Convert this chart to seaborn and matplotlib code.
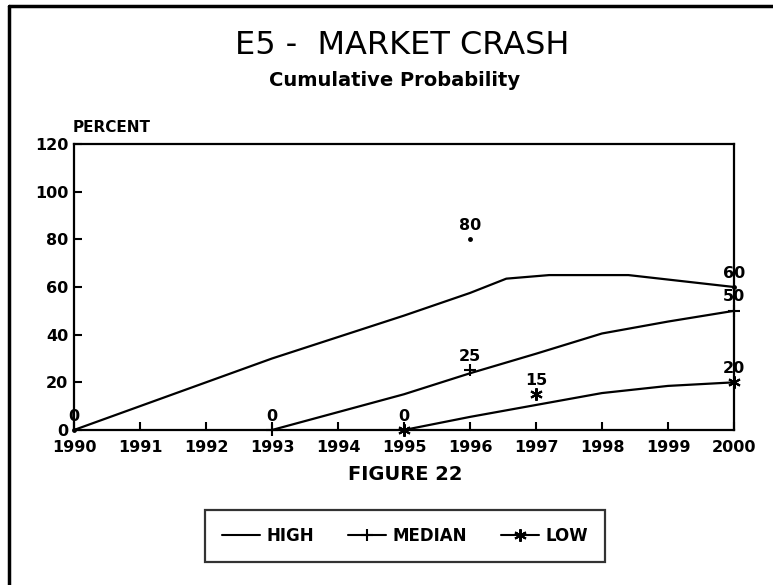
import pandas as pd
import matplotlib.pyplot as plt
import seaborn as sns
from matplotlib.lines import Line2D

# data points (value labels)
high_years = [1990, 1996, 2000]
high_vals = [0, 80, 60]
median_years = [1993, 1996, 2000]
median_vals = [0, 25, 50]
low_years = [1995, 1997, 2000]
low_vals = [0, 15, 20]

# fitted curves
high_curve_x = [1990, 1991, 1992, 1993, 1994, 1995, 1996, 1996.55, 1997.2, 1998.4, 1999.2, 2000]
high_curve_y = [0, 10, 20, 30, 39, 48, 57.5, 63.5, 65, 65, 62.5, 60]
median_curve_x = [1993, 1994, 1995, 1996, 1997, 1998, 1999, 2000]
median_curve_y = [0, 7.5, 15, 23.8, 32, 40.5, 45.5, 50]
low_curve_x = [1995, 1996, 1997, 1998, 1999, 2000]
low_curve_y = [0, 5.5, 10.5, 15.5, 18.5, 20]

year_ticks = list(range(1990, 2001))
pct_ticks = [0, 20, 40, 60, 80, 100, 120]

series = ['HIGH', 'MEDIAN', 'LOW']
asterisk = (6, 2, 0)
markers = {'HIGH': '.', 'MEDIAN': '+', 'LOW': asterisk}

sns.set_theme(style='white')
plt.rcParams['font.family'] = ['DejaVu Sans']
plt.rcParams['font.weight'] = 'bold'
plt.rcParams['text.color'] = 'black'
plt.rcParams['xtick.color'] = 'black'
plt.rcParams['ytick.color'] = 'black'

curves = pd.concat([
    pd.DataFrame({'year': high_curve_x, 'pct': high_curve_y, 'series': 'HIGH'}),
    pd.DataFrame({'year': median_curve_x, 'pct': median_curve_y, 'series': 'MEDIAN'}),
    pd.DataFrame({'year': low_curve_x, 'pct': low_curve_y, 'series': 'LOW'}),
])
points = pd.concat([
    pd.DataFrame({'year': high_years, 'pct': high_vals, 'series': 'HIGH'}),
    pd.DataFrame({'year': median_years, 'pct': median_vals, 'series': 'MEDIAN'}),
    pd.DataFrame({'year': low_years, 'pct': low_vals, 'series': 'LOW'}),
])

fig = plt.figure(figsize=(7.73, 5.85), dpi=100)
ax = fig.add_axes([74 / 773, 155 / 585, 660 / 773, 286 / 585])

sns.lineplot(data=curves, x='year', y='pct', hue='series', units='series',
             estimator=None, palette={s: 'black' for s in series},
             linewidth=1.6, legend=False, ax=ax)

for s in series:
    sub = points[points['series'] == s]
    ax.plot(sub['year'], sub['pct'], linestyle='none', marker=markers[s],
            color='black', markersize=9 if s != 'HIGH' else 4,
            markeredgewidth=1.5, clip_on=False, zorder=5)
    for x, v in zip(sub['year'], sub['pct']):
        ax.annotate(str(v), (x, v), xytext=(0, 10), textcoords='offset points',
                    ha='center', va='center', fontsize=11.5, fontweight='bold',
                    color='black')

ax.set_xlim(1990, 2000)
ax.set_ylim(0, 120)
ax.set_xticks(year_ticks)
ax.set_yticks(pct_ticks)
ax.set_xlabel('')
ax.set_ylabel('')
for sp in ax.spines.values():
    sp.set_color('black')
    sp.set_linewidth(1.6)
ax.tick_params(axis='both', direction='in', length=6, width=1.5,
               labelsize=11.5, colors='black', bottom=True, left=True)
ax.tick_params(axis='x', pad=7)
ax.tick_params(axis='y', pad=4)
for lbl in ax.get_xticklabels() + ax.get_yticklabels():
    lbl.set_fontweight('bold')

fig.text(0.52, 1 - 45 / 585, 'E5 -  MARKET CRASH', ha='center', va='center',
         fontsize=23, fontweight='normal', color='black')
fig.text(0.51, 1 - 80 / 585, 'Cumulative Probability', ha='center', va='center',
         fontsize=14, fontweight='bold', color='black')
fig.text(73 / 773, 1 - 127 / 585, 'PERCENT', ha='left', va='center',
         fontsize=11, fontweight='bold', color='black')
fig.text(405 / 773, 1 - 475 / 585, 'FIGURE 22', ha='center', va='center',
         fontsize=14, fontweight='bold', color='black')

handles = [Line2D([], [], color='black', linewidth=1.5, marker=None),
           Line2D([], [], color='black', linewidth=1.5, marker='+', markersize=9, markeredgewidth=1.5),
           Line2D([], [], color='black', linewidth=1.5, marker=asterisk, markersize=9, markeredgewidth=1.5)]
leg = fig.legend(handles, series, loc='center', bbox_to_anchor=(405 / 773, 1 - 536 / 585),
                 ncol=3, frameon=True, fancybox=False, edgecolor='black',
                 fontsize=12, handlelength=2.3, handletextpad=0.4, columnspacing=2.0,
                 borderpad=1.0, borderaxespad=0)
leg.get_frame().set_linewidth(1.6)
for t in leg.get_texts():
    t.set_fontweight('bold')
    t.set_color('black')

# page frame lines (top and left edges of the scanned page)
fig.add_artist(Line2D([9 / 773, 1], [1 - 6 / 585, 1 - 6 / 585], color='black', linewidth=2.5))
fig.add_artist(Line2D([9 / 773, 9 / 773], [0, 1 - 6 / 585], color='black', linewidth=2.5))

fig.savefig('out.png', dpi=100)
